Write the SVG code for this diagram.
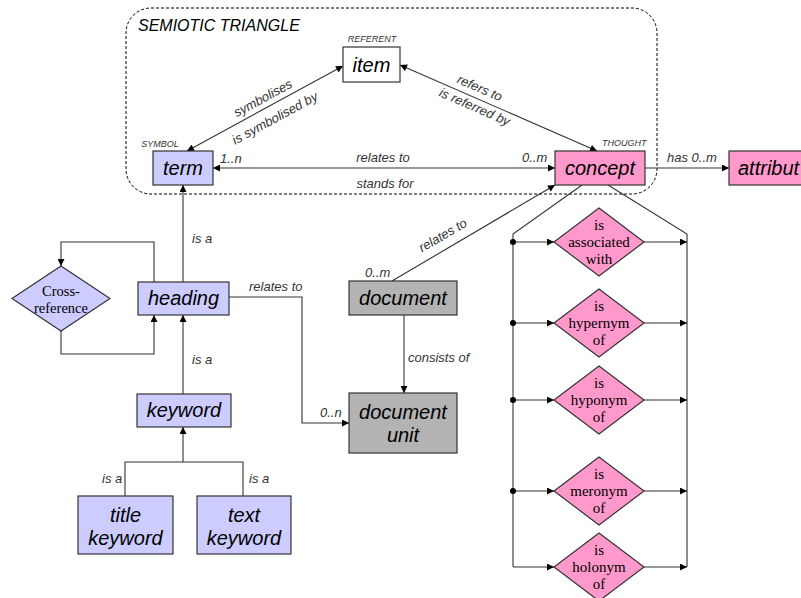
<svg xmlns="http://www.w3.org/2000/svg" width="801" height="598" viewBox="0 0 801 598">
<style>
text{font-family:"Liberation Sans",Arial,sans-serif;}
.box{stroke:#333;stroke-width:1.2;}
.blue{fill:#ccccff;}
.pink{fill:#ff99cc;}
.grey{fill:#b3b3b3;}
.white{fill:#fff;}
.bt{font-size:20px;font-style:italic;fill:#000;text-anchor:middle;}
.lbl{font-size:13px;font-style:italic;fill:#333;}
.mid{text-anchor:middle;}
.sm{font-size:9px;font-style:italic;fill:#333;}
.dt{font-family:"Liberation Serif","Times New Roman",serif;font-size:15px;fill:#000;text-anchor:middle;}
.ln{fill:none;stroke:#333;stroke-width:1.1;}
.arr{marker-end:url(#ah);}
.both{marker-start:url(#ah);marker-end:url(#ah);}
</style>
<defs>
<marker id="ah" viewBox="0 0 10 10" refX="10" refY="5" markerUnits="userSpaceOnUse" markerWidth="8" markerHeight="7" orient="auto-start-reverse">
<path d="M0,0 L10,5 L0,10 z" fill="#000"/>
</marker>
</defs>
<rect id="semiotic" x="126" y="8" width="531" height="186" rx="25" ry="25" fill="none" stroke="#000" stroke-width="1" stroke-dasharray="3,2"/>
<text x="138" y="31" style="font-size:16px;font-style:italic;fill:#000">SEMIOTIC TRIANGLE</text>

<g id="connectors">
<line class="ln both" x1="343" y1="66" x2="187" y2="151"/>
<line class="ln both" x1="400" y1="65" x2="597" y2="151"/>
<line class="ln both" x1="213" y1="168" x2="555" y2="168"/>
<line class="ln arr" x1="645" y1="168" x2="729" y2="168"/>
<line class="ln arr" x1="392" y1="281" x2="555" y2="185"/>
<line class="ln arr" x1="183" y1="282" x2="183" y2="185"/>
<line class="ln arr" x1="183" y1="394" x2="183" y2="315"/>
<polyline class="ln" points="125,496 125,462 243,462 243,496"/>
<line class="ln arr" x1="183" y1="462" x2="183" y2="427"/>
<polyline class="ln arr" points="154,282 154,242 61,242 61,266"/>
<polyline class="ln arr" points="61,331 61,354 154,354 154,315"/>
<polyline class="ln arr" points="229,297 302,297 302,423 349,423"/>
<line class="ln arr" x1="404" y1="315" x2="404" y2="393"/>
<polyline class="ln" points="513,567 513,234 582,185"/>
<polyline class="ln" points="608,185 687,234 687,567"/>
<line class="ln arr" x1="513" y1="242" x2="554" y2="242"/>
<line class="ln arr" x1="644" y1="242" x2="687" y2="242"/>
<line class="ln arr" x1="513" y1="323" x2="554" y2="323"/>
<line class="ln arr" x1="644" y1="323" x2="687" y2="323"/>
<line class="ln arr" x1="513" y1="400" x2="554" y2="400"/>
<line class="ln arr" x1="644" y1="400" x2="687" y2="400"/>
<line class="ln arr" x1="513" y1="491" x2="554" y2="491"/>
<line class="ln arr" x1="644" y1="491" x2="687" y2="491"/>
<line class="ln arr" x1="513" y1="567" x2="554" y2="567"/>
<line class="ln arr" x1="644" y1="567" x2="687" y2="567"/>
<circle cx="513" cy="242" r="3" fill="#000"/>
<circle cx="513" cy="323" r="3" fill="#000"/>
<circle cx="513" cy="400" r="3" fill="#000"/>
<circle cx="513" cy="491" r="3" fill="#000"/>
<text class="lbl mid" transform="translate(265,102) rotate(-28.5)">symbolises</text>
<text class="lbl mid" transform="translate(277,122) rotate(-28.5)">is symbolised by</text>
<text class="lbl mid" transform="translate(478,92) rotate(23.5)">refers to</text>
<text class="lbl mid" transform="translate(473,111) rotate(23.5)">is referred by</text>
<text class="lbl" x="220" y="163">1..n</text>
<text class="lbl mid" x="383" y="162">relates to</text>
<text class="lbl mid" x="385" y="188">stands for</text>
<text class="lbl" x="522" y="162">0..m</text>
<text class="lbl" x="667" y="162">has  0..m</text>
<text class="lbl mid" transform="translate(445,239) rotate(-30.3)">relates to</text>
<text class="lbl" x="365" y="277">0..m</text>
<text class="lbl" x="192" y="243">is a</text>
<text class="lbl" x="249" y="291">relates to</text>
<text class="lbl" x="192" y="364">is a</text>
<text class="lbl" x="408" y="362">consists of</text>
<text class="lbl" x="320" y="417">0..n</text>
<text class="lbl" x="102" y="483">is a</text>
<text class="lbl" x="249" y="483">is a</text>
</g>

<g id="item">
<rect class="box white" x="343" y="47" width="57" height="35"/>
<text class="bt" x="371.5" y="72">item</text>
<text class="sm mid" x="372" y="42">REFERENT</text>
</g>
<g id="term">
<rect class="box blue" x="153" y="151" width="60" height="34"/>
<text class="bt" x="183" y="175">term</text>
<text class="sm mid" x="160" y="147">SYMBOL</text>
</g>
<g id="concept">
<rect class="box pink" x="555" y="151" width="90" height="34"/>
<text class="bt" x="600" y="175">concept</text>
<text class="sm" x="602" y="146">THOUGHT</text>
</g>
<g id="attribute">
<rect class="box pink" x="729" y="151" width="92" height="34"/>
<text class="bt" x="738" y="175" style="text-anchor:start">attribut</text>
</g>
<g id="heading">
<rect class="box blue" x="138" y="282" width="91" height="33"/>
<text class="bt" x="183.5" y="305">heading</text>
</g>
<g id="crossref">
<polygon class="box blue" points="61,266 110,298.5 61,331 12,298.5"/>
<text class="dt" x="61" y="296" style="font-size:14.5px">Cross-</text>
<text class="dt" x="61" y="313" style="font-size:14.5px">reference</text>
</g>
<g id="keyword">
<rect class="box blue" x="137" y="394" width="94" height="33"/>
<text class="bt" x="184" y="417">keyword</text>
</g>
<g id="titlekeyword">
<rect class="box blue" x="78" y="496" width="95" height="58"/>
<text class="bt" x="125.5" y="522">title</text>
<text class="bt" x="125.5" y="545">keyword</text>
</g>
<g id="textkeyword">
<rect class="box blue" x="197" y="496" width="94" height="58"/>
<text class="bt" x="244" y="522">text</text>
<text class="bt" x="244" y="545">keyword</text>
</g>
<g id="document">
<rect class="box grey" x="349" y="281" width="108" height="34"/>
<text class="bt" x="403" y="305">document</text>
</g>
<g id="documentunit">
<rect class="box grey" x="349" y="393" width="108" height="60"/>
<text class="bt" x="403" y="419">document</text>
<text class="bt" x="403" y="442">unit</text>
</g>
<g id="d1">
<polygon class="box pink" points="599,208 644,242 599,276 554,242"/>
<text class="dt" x="599" y="230">is</text>
<text class="dt" x="599" y="247">associated</text>
<text class="dt" x="599" y="264">with</text>
</g>
<g id="d2">
<polygon class="box pink" points="599,289 644,323 599,357 554,323"/>
<text class="dt" x="599" y="311">is</text>
<text class="dt" x="599" y="328">hypernym</text>
<text class="dt" x="599" y="345">of</text>
</g>
<g id="d3">
<polygon class="box pink" points="599,366 644,400 599,434 554,400"/>
<text class="dt" x="599" y="388">is</text>
<text class="dt" x="599" y="405">hyponym</text>
<text class="dt" x="599" y="422">of</text>
</g>
<g id="d4">
<polygon class="box pink" points="599,457 644,491 599,525 554,491"/>
<text class="dt" x="599" y="479">is</text>
<text class="dt" x="599" y="496">meronym</text>
<text class="dt" x="599" y="513">of</text>
</g>
<g id="d5">
<polygon class="box pink" points="599,533 644,567 599,601 554,567"/>
<text class="dt" x="599" y="555">is</text>
<text class="dt" x="599" y="572">holonym</text>
<text class="dt" x="599" y="589">of</text>
</g>
</svg>
